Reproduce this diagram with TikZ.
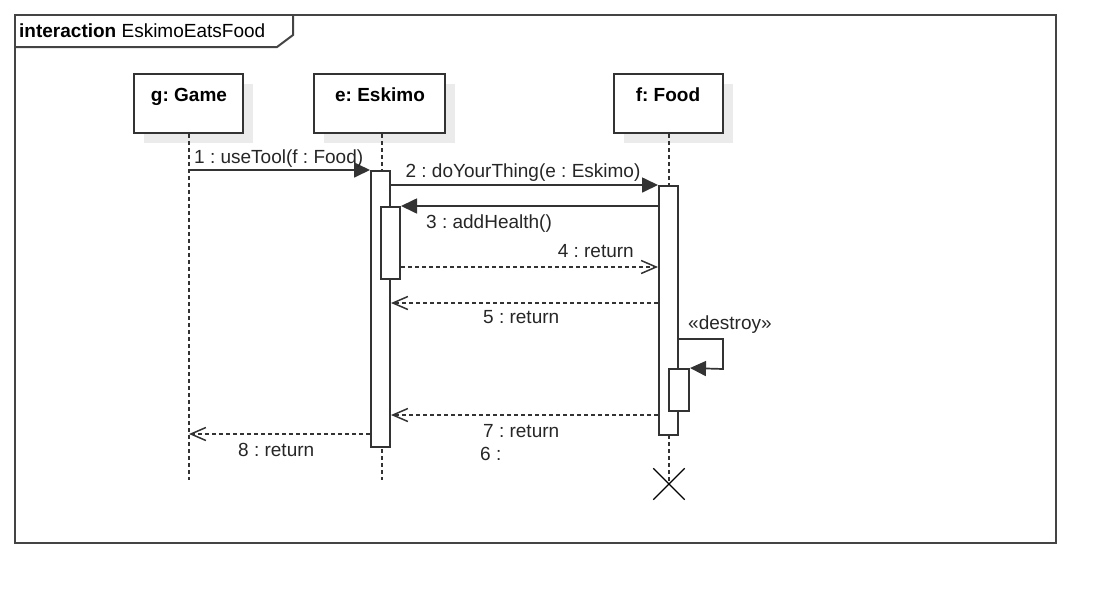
\documentclass[tikz,border=0pt]{standalone}
\usepackage{fontspec}
\setmainfont{Liberation Sans}
\frenchspacing
\usetikzlibrary{arrows.meta,shadows,shapes.misc}
\definecolor{ln}{HTML}{333333}
\definecolor{fr}{HTML}{444444}
\definecolor{shd}{HTML}{EBEBEB}
\definecolor{tx}{HTML}{262626}
\begin{document}
\frenchspacing
\begin{tikzpicture}[x=1pt,y=-1pt,
  font=\fontsize{19}{22}\selectfont,
  namebox/.style={draw=ln, line width=2pt, fill=white, minimum width=109pt, minimum height=59pt, inner sep=0pt,
    drop shadow={shadow xshift=10pt, shadow yshift=-10pt, fill=shd, opacity=1}},
  nametext/.style={anchor=base, inner sep=0pt, font=\fontsize{19}{22}\selectfont\bfseries, text=black},
  actbar/.style={draw=ln, line width=2pt, fill=white, minimum width=19pt, inner sep=0pt},
  lifeline/.style={draw=ln, line width=1.4pt, dash pattern=on 3.5pt off 3.5pt},
  callmsg/.style={draw=ln, line width=1.7pt, -{Triangle[length=16pt,width=15pt]}},
  retmsg/.style={draw=ln, line width=1.5pt, dash pattern=on 4pt off 3pt, -{Straight Barb[length=15pt,width=13pt,line width=1.5pt]}},
  lbl/.style={inner sep=0pt, text=tx}
]
\useasboundingbox (0,0) rectangle (1116,603);
% frame
\draw[fr, line width=2pt] (15,15) rectangle (1056,543);
\draw[fr, line width=2pt] (15,47) -- (277,47) -- (293,35) -- (293,15);
\node[lbl, anchor=base west, text=black] (title) at (19,37) {\textbf{interaction} EskimoEatsFood};

% lifeline heads
\node[namebox] (g) at (188.5,103.5) {};
\node[namebox, minimum width=131pt] (e) at (379.5,103.5) {};
\node[namebox] (f) at (668.5,103.5) {};
\node[nametext] (gt) at (189,101) {g: Game};
\node[nametext] (et) at (380,101) {e: Eskimo};
\node[nametext] (ft) at (668,101) {f: Food};

% destruction
\node[cross out, draw=black, line width=1.3pt, minimum size=30pt, inner sep=0pt] (fx) at (669,484) {};

% lifelines
\coordinate (gend) at (189,480);
\coordinate (eend) at (382,480);
\draw[lifeline] (g.south -| gend) -- (gend);
\draw[lifeline] (e.south -| eend) -- (eend);
\draw[lifeline] (f.south -| fx) -- (fx.center);

% activations
\node[actbar, minimum height=276pt] (eA) at (380.5,309) {};
\node[actbar, minimum height=72pt] (eB) at (390.5,243) {};
\node[actbar, minimum height=249pt] (fA) at (668.5,310.5) {};
\node[actbar, minimum width=20pt, minimum height=42pt] (fB) at (679,390) {};

% messages
\draw[callmsg] (gend |- eA.north west) -- (eA.north west);
\node[lbl, anchor=base west] (m1) at (194,163) {1 : useTool(f : Food)};

\draw[callmsg] (eA.east |- fA.north west) -- (fA.north west);
\node[lbl, anchor=base] (m2) at (523,177) {2 : doYourThing(e : Eskimo)};

\draw[callmsg] (fA.west |- eB.north east) -- (eB.north east);
\node[lbl, anchor=base west] (m3) at (426,228) {3 : addHealth()};

\draw[retmsg] (eB.east |- 0,267) -- (fA.west |- 0,267);
\node[lbl, anchor=base east] (m4) at (634,257) {4 : return};

\draw[retmsg] (fA.west |- 0,303) -- (eA.east |- 0,303);
\node[lbl, anchor=base west] (m5) at (483,323) {5 : return};

\coordinate (selfc) at (723,369);
\draw[callmsg] (fA.east |- 0,339) -| (selfc) -- (fB.north east);
\node[lbl, anchor=base west] (m6d) at (688,329) {«destroy»};

\draw[retmsg] (fA.west |- 0,415) -- (eA.east |- 0,415);
\node[lbl, anchor=base west] (m7) at (483,437) {7 : return};

\draw[retmsg] (eA.west |- 0,434) -- (gend |- 0,434);
\node[lbl, anchor=base west] (m8) at (238,456) {8 : return};

\node[lbl, anchor=base west] (m6) at (480,460) {6 :};
\end{tikzpicture}
\end{document}
